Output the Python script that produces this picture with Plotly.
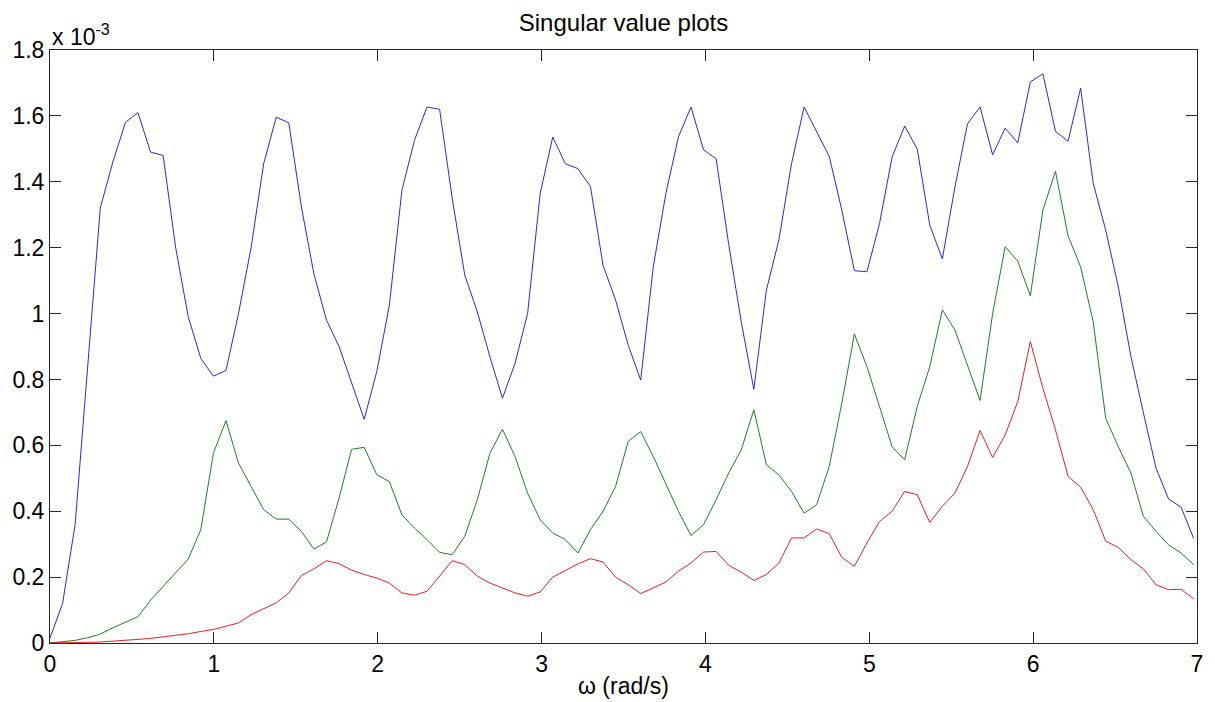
import numpy as np
import plotly.graph_objects as go

# frequency grid (rad/s)
omega = np.linspace(0, 6.98, 92)

# singular values, in units of 1e-3
sv1 = [0.015, 0.12, 0.36, 0.85, 1.32, 1.46, 1.58, 1.61, 1.49, 1.48,
       1.20, 0.99, 0.864, 0.81, 0.827, 1.0, 1.2, 1.455, 1.596, 1.579,
       1.324, 1.12, 0.98, 0.9, 0.79, 0.679, 0.824, 1.025, 1.374, 1.526,
       1.627, 1.62, 1.35, 1.117, 1.005, 0.869, 0.743, 0.849, 1.0, 1.364,
       1.536, 1.455, 1.44, 1.386, 1.147, 1.041, 0.905, 0.798, 1.142, 1.364,
       1.536, 1.627, 1.497, 1.47, 1.21, 0.975, 0.77, 1.071, 1.225, 1.455,
       1.627, 1.551, 1.477, 1.314, 1.13, 1.127, 1.273, 1.475, 1.569, 1.5,
       1.268, 1.166, 1.384, 1.576, 1.627, 1.482, 1.563, 1.518, 1.703, 1.728,
       1.553, 1.523, 1.684, 1.396, 1.253, 1.081, 0.87, 0.698, 0.531, 0.437,
       0.412, 0.317]

sv2 = [0.0, 0.003, 0.008, 0.016, 0.027, 0.046, 0.064, 0.08, 0.13, 0.172,
       0.213, 0.255, 0.344, 0.576, 0.675, 0.546, 0.475, 0.405, 0.376, 0.376,
       0.339, 0.285, 0.307, 0.44, 0.588, 0.594, 0.511, 0.49, 0.389, 0.349,
       0.314, 0.275, 0.268, 0.324, 0.435, 0.576, 0.649, 0.566, 0.455, 0.374,
       0.334, 0.314, 0.273, 0.344, 0.4, 0.475, 0.612, 0.642, 0.566, 0.485,
       0.4, 0.326, 0.359, 0.435, 0.516, 0.586, 0.708, 0.541, 0.51, 0.46,
       0.394, 0.42, 0.536, 0.728, 0.938, 0.839, 0.718, 0.596, 0.556, 0.718,
       0.839, 1.011, 0.95, 0.84, 0.736, 1.0, 1.203, 1.159, 1.054, 1.314,
       1.432, 1.236, 1.142, 0.975, 0.682, 0.596, 0.516, 0.384, 0.339, 0.298,
       0.273, 0.238]

sv3 = [0.0, 0.0, 0.001, 0.002, 0.003, 0.005, 0.008, 0.011, 0.014, 0.018,
       0.022, 0.028, 0.035, 0.041, 0.051, 0.061, 0.086, 0.103, 0.122, 0.152,
       0.205, 0.225, 0.25, 0.241, 0.221, 0.208, 0.197, 0.182, 0.152, 0.145,
       0.157, 0.203, 0.25, 0.238, 0.203, 0.182, 0.167, 0.152, 0.142, 0.155,
       0.2, 0.221, 0.24, 0.256, 0.246, 0.2, 0.177, 0.15, 0.167, 0.185,
       0.218, 0.243, 0.276, 0.278, 0.236, 0.215, 0.19, 0.208, 0.243, 0.319,
       0.319, 0.346, 0.332, 0.26, 0.233, 0.304, 0.369, 0.4, 0.46, 0.45,
       0.366, 0.415, 0.455, 0.536, 0.645, 0.563, 0.632, 0.733, 0.915, 0.773,
       0.647, 0.506, 0.473, 0.405, 0.309, 0.29, 0.253, 0.225, 0.177, 0.162,
       0.163, 0.134]

xticks = [0, 1, 2, 3, 4, 5, 6, 7]
yticks = [0, 0.2, 0.4, 0.6, 0.8, 1.0, 1.2, 1.4, 1.6, 1.8]
ytick_text = ["0", "0.2", "0.4", "0.6", "0.8", "1", "1.2", "1.4", "1.6", "1.8"]

scale = 1e-3
series = [(sv1, "#2a2ad6"), (sv2, "#1f7f1f"), (sv3, "#e0202c")]

fig = go.Figure()
for vals, col in series:
    fig.add_trace(go.Scatter(x=omega, y=np.array(vals) * scale, mode="lines",
                             line=dict(color=col, width=1), showlegend=False))

font_family = "Liberation Sans, Arial, sans-serif"
axis_common = dict(showline=True, linecolor="#262626", linewidth=1, mirror="ticks",
                   ticks="inside", ticklen=11, tickcolor="#262626", showgrid=False,
                   zeroline=False, tickfont=dict(size=23, color="black", family=font_family))

fig.update_xaxes(range=[0, 7], tickvals=xticks, **axis_common)
fig.update_yaxes(range=[0, 1.8e-3], tickvals=[v * scale for v in yticks],
                 ticktext=ytick_text, **axis_common)

fig.update_layout(
    width=1215, height=702,
    margin=dict(l=49, r=14, t=50, b=59),
    plot_bgcolor="white", paper_bgcolor="white",
    font=dict(family=font_family, color="black"),
    title=dict(text="Singular value plots", x=0.5, xanchor="center", xref="paper",
               y=1 - 23 / 702, yref="container", yanchor="middle",
               font=dict(size=24, color="black", family=font_family)),
    annotations=[
        dict(text="\u03c9 (rad/s)", xref="paper", yref="paper", x=0.5, y=-43 / 593,
             xanchor="center", yanchor="middle", showarrow=False,
             font=dict(size=23, color="black", family=font_family)),
        dict(text="x 10<sup>-3</sup>", xref="paper", yref="paper", x=0, y=1,
             xanchor="left", yanchor="bottom", showarrow=False, yshift=-2,
             font=dict(size=23, color="black", family=font_family)),
    ],
)

fig.write_html("out.html")
